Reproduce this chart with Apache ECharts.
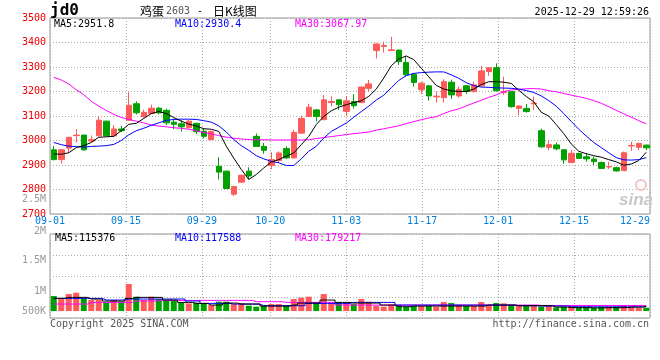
<!DOCTYPE html>
<html><head><meta charset="utf-8">
<script src="https://cdn.jsdelivr.net/npm/echarts@6/dist/echarts.min.js"></script>
<style>html,body{margin:0;padding:0;background:#fff}#c{width:660px;height:360px}</style>
</head><body><div id="c"></div><script>
const dates = ['09-01','09-02','09-03','09-04','09-05','09-08','09-09','09-10','09-11','09-12',
'09-15','09-16','09-17','09-18','09-19','09-22','09-23','09-24','09-25','09-26',
'09-29','09-30','10-09','10-10','10-13','10-14','10-15','10-16','10-17','10-20',
'10-21','10-22','10-23','10-24','10-27','10-28','10-29','10-30','10-31','11-03',
'11-04','11-05','11-06','11-07','11-10','11-11','11-12','11-13','11-14','11-17',
'11-18','11-19','11-20','11-21','11-24','11-25','11-26','11-27','11-28','12-01',
'12-02','12-03','12-04','12-05','12-08','12-09','12-10','12-11','12-12','12-15',
'12-16','12-17','12-18','12-19','12-22','12-23','12-24','12-25','12-26','12-29'];
const opens = [2962,2922,2969,3020,3022,2998,3019,3079,3019,3047,
3083,3150,3097,3110,3132,3123,3075,3068,3052,3070,
3038,3004,2895,2875,2781,2830,2875,3017,2976,2898,
2918,2967,2929,3030,3098,3125,3085,3155,3166,3119,
3159,3155,3213,3367,3384,3367,3369,3318,3270,3207,
3223,3178,3175,3238,3182,3223,3200,3223,3281,3297,
3195,3199,3131,3131,3150,3040,2972,2982,2962,2910,
2947,2934,2924,2910,2892,2889,2877,2978,2972,2981];
const closes = [2922,2962,3013,3022,2962,3003,3083,3019,3047,3040,
3144,3113,3115,3132,3113,3072,3066,3056,3079,3036,
3017,3037,2871,2804,2812,2858,2855,2976,2960,2922,
2949,2929,3033,3090,3136,3098,3166,3159,3146,3162,
3142,3218,3231,3394,3388,3370,3322,3268,3237,3234,
3182,3181,3240,3186,3209,3200,3227,3284,3297,3203,
3200,3138,3141,3118,3153,2974,2983,2966,2921,2948,
2927,2925,2914,2886,2894,2876,2950,2980,2988,2970];
const lows = [2919,2906,2949,2992,2958,2993,3017,3017,3013,3034,
3080,3106,3094,3107,3107,3063,3046,3036,3050,3027,
3008,3000,2841,2802,2773,2828,2841,2974,2946,2882,
2909,2925,2927,3028,3096,3078,3083,3139,3125,3101,
3130,3152,3200,3335,3359,3366,3308,3261,3220,3190,
3163,3155,3155,3170,3175,3190,3196,3221,3264,3200,
3186,3134,3102,3114,3125,2971,2961,2960,2905,2908,
2924,2914,2900,2884,2884,2873,2876,2958,2961,2961];
const highs = [2978,2965,3015,3047,3024,3021,3099,3081,3063,3060,
3197,3160,3126,3146,3137,3130,3089,3083,3083,3072,
3050,3040,2932,2877,2815,2860,2891,3028,2990,2952,
2956,2976,3044,3101,3150,3129,3186,3180,3169,3182,
3189,3220,3247,3396,3404,3423,3371,3345,3275,3240,
3227,3200,3250,3248,3220,3227,3240,3304,3299,3315,
3260,3200,3145,3149,3179,3048,3000,2992,2965,2962,
2950,2948,2934,2914,2913,2893,2955,2995,2991,2984];
const ma5 = [2945,2944,2950,2971,2979,2992,3013,3015,3017,3040,
3066,3070,3090,3110,3118,3110,3094,3079,3067,3059,
3048,3046,3037,2977,2928,2882,2841,2861,2888,2912,
2922,2936,2949,2983,3017,3065,3098,3121,3136,3146,
3155,3162,3180,3210,3255,3305,3333,3345,3330,3295,
3260,3225,3210,3203,3200,3200,3210,3228,3240,3240,
3238,3233,3205,3180,3158,3115,3100,3065,3028,2986,
2956,2946,2938,2932,2922,2913,2899,2904,2918,2952];
const ma10 = [2992,2983,2977,2975,2973,2976,2977,2979,2984,3000,
3023,3040,3050,3062,3072,3082,3086,3087,3087,3086,
3081,3075,3060,3035,3004,2979,2960,2938,2925,2915,
2909,2898,2898,2925,2956,2976,3010,3037,3054,3071,
3095,3118,3140,3165,3185,3215,3245,3265,3274,3277,
3279,3280,3280,3268,3254,3236,3224,3218,3217,3215,
3214,3213,3210,3204,3196,3182,3163,3140,3110,3078,
3046,3018,2992,2971,2950,2930,2921,2920,2922,2930];
const ma30 = [3258,3247,3231,3207,3187,3160,3140,3123,3107,3094,
3086,3079,3072,3063,3059,3056,3052,3050,3046,3040,
3032,3027,3020,3014,3009,3006,3004,3003,3003,3002,
3002,3002,3002,3002,3003,3008,3012,3016,3020,3024,
3028,3031,3035,3042,3048,3054,3060,3069,3077,3085,
3092,3097,3110,3121,3129,3141,3153,3164,3176,3186,
3200,3206,3209,3211,3212,3210,3203,3199,3192,3185,
3179,3172,3163,3152,3138,3123,3109,3095,3081,3068];
const volumes = [390000,312000,442000,477000,329000,286000,286000,225000,286000,243000,
702000,373000,286000,373000,312000,286000,260000,225000,199000,217000,
199000,156000,243000,243000,182000,199000,139000,113000,139000,182000,
182000,139000,312000,347000,373000,225000,442000,225000,225000,225000,
182000,312000,243000,139000,113000,173000,156000,113000,130000,130000,
139000,113000,234000,208000,156000,130000,130000,234000,156000,208000,
199000,156000,156000,156000,156000,113000,156000,95000,113000,113000,
87000,87000,87000,113000,113000,113000,156000,113000,87000,87000];
const volMa5 = [329000,329000,355000,355000,355000,312000,312000,260000,260000,260000,
329000,355000,355000,355000,355000,286000,286000,225000,225000,199000,
199000,156000,156000,208000,208000,182000,182000,182000,130000,130000,
130000,130000,156000,208000,208000,208000,286000,286000,225000,225000,
208000,208000,208000,208000,156000,156000,113000,113000,130000,130000,
130000,130000,130000,130000,130000,130000,130000,130000,156000,156000,
156000,156000,139000,139000,139000,139000,139000,104000,104000,90000,
90000,90000,82000,82000,88000,88000,88000,104000,104000,115000];
const volMa10 = [329000,329000,329000,329000,329000,329000,329000,286000,286000,286000,
312000,312000,312000,312000,312000,312000,312000,312000,260000,260000,
199000,199000,199000,199000,182000,182000,182000,182000,139000,139000,
139000,139000,139000,139000,199000,199000,199000,199000,199000,199000,
225000,225000,225000,225000,225000,225000,156000,156000,156000,156000,
156000,156000,156000,156000,156000,156000,156000,156000,156000,156000,
156000,156000,139000,139000,139000,130000,130000,130000,130000,113000,
113000,113000,110000,110000,110000,110000,110000,110000,110000,118000];
const volMa30 = [182000,182000,182000,182000,182000,225000,225000,225000,225000,225000,
225000,260000,260000,260000,277000,277000,277000,277000,277000,277000,
277000,277000,277000,277000,277000,277000,277000,243000,243000,243000,
243000,225000,225000,225000,225000,225000,225000,225000,156000,156000,
156000,156000,156000,156000,156000,156000,156000,156000,156000,156000,
156000,156000,156000,156000,156000,156000,156000,156000,156000,156000,
156000,156000,156000,156000,156000,145000,145000,145000,145000,145000,
145000,145000,145000,145000,145000,145000,145000,145000,145000,145000];
const xTickLabels = ['09-01','09-15','09-29','10-20','11-03','11-17','12-01','12-15','12-29'];
const volTickLabels = ['2M','1.5M','1M','500K'];
const strayTickLabel = '2.5M';
const maLabels = ['MA5:2951.8','MA10:2930.4','MA30:3067.97'];
const volMaLabels = ['MA5:115376','MA10:117588','MA30:179217'];

const UP = '#ff5a5a', DOWN = '#00a000';
const MONO = '"DejaVu Sans Mono", monospace';
const CJK = '"Noto Sans CJK SC", sans-serif';
const tickIdx = xTickLabels.map(d => dates.indexOf(d));
const isTick = (i) => tickIdx.indexOf(i) >= 0;
const candles = dates.map((d, i) => [opens[i], closes[i], lows[i], highs[i]]);
const volBars = volumes.map((v, i) => ({ value: v, itemStyle: { color: closes[i] >= opens[i] ? UP : DOWN } }));
const dotted = { show: true, lineStyle: { color: '#aaa', type: [1, 2], width: 1 } };

function txt(text, x, y, fill, font, align) {
  return { type: 'text', silent: true, z: 50, style: { text, x, y, fill, font, textAlign: align || 'left', align: align || 'left', textVerticalAlign: 'middle', verticalAlign: 'middle' } };
}

const chart = echarts.init(document.getElementById('c'), null, { renderer: 'canvas' });
chart.setOption({
  animation: false,
  backgroundColor: '#fff',
  grid: [
    { left: 50, top: 18, width: 600, height: 196, show: true, borderColor: '#999', borderWidth: 1 },
    { left: 50, top: 234, width: 600, height: 84, show: true, borderColor: '#999', borderWidth: 1 }
  ],
  xAxis: [
    { type: 'category', gridIndex: 0, data: dates, boundaryGap: true, position: 'bottom',
      axisLine: { show: false }, axisTick: { show: false }, axisLabel: { show: false }, splitLine: { show: false } },
    { type: 'category', gridIndex: 0, data: dates, boundaryGap: false, position: 'bottom',
      axisLine: { show: false }, axisTick: { show: false },
      axisLabel: { show: true, interval: (i) => isTick(i), color: '#0080e0', fontFamily: MONO, fontSize: 10, margin: 2, alignMaxLabel: 'right', hideOverlap: false },
      splitLine: Object.assign({ interval: (i) => isTick(i) }, dotted) },
    { type: 'category', gridIndex: 1, data: dates, boundaryGap: true, position: 'bottom',
      axisLine: { show: false }, axisTick: { show: false }, axisLabel: { show: false }, splitLine: { show: false } },
    { type: 'category', gridIndex: 1, data: dates, boundaryGap: false, position: 'bottom',
      axisLine: { show: false }, axisTick: { show: false }, axisLabel: { show: false },
      splitLine: Object.assign({ interval: (i) => isTick(i) }, dotted) }
  ],
  yAxis: [
    { type: 'value', gridIndex: 0, min: 2700, max: 3500, interval: 100, position: 'left',
      axisLine: { show: false }, axisTick: { show: false },
      axisLabel: { color: '#ee0000', fontFamily: MONO, fontSize: 10, margin: 4, padding: [0, 0, 5, 0], formatter: (v) => String(v) },
      splitLine: dotted },
    { type: 'value', gridIndex: 1, min: -180000, max: 2000000, interval: 545000, position: 'left',
      axisLine: { show: false }, axisTick: { show: false }, axisLabel: { show: false },
      splitLine: dotted }
  ],
  series: [
    { type: 'bar', name: 'vol', xAxisIndex: 2, yAxisIndex: 1, data: volBars, barWidth: 6, z: 2 },
    { type: 'line', xAxisIndex: 2, yAxisIndex: 1, data: volMa30, step: 'middle', showSymbol: false, lineStyle: { color: '#ff00ff', width: 1 }, z: 3 },
    { type: 'line', xAxisIndex: 2, yAxisIndex: 1, data: volMa10, step: 'middle', showSymbol: false, lineStyle: { color: '#0000ff', width: 1 }, z: 3 },
    { type: 'line', xAxisIndex: 2, yAxisIndex: 1, data: volMa5, step: 'middle', showSymbol: false, lineStyle: { color: '#000', width: 1 }, z: 3 },
    { type: 'candlestick', xAxisIndex: 0, yAxisIndex: 0, data: candles, barWidth: 6, z: 2,
      itemStyle: { color: UP, color0: DOWN, borderColor: UP, borderColor0: DOWN, borderWidth: 1 } },
    { type: 'line', xAxisIndex: 0, yAxisIndex: 0, data: ma30, showSymbol: false, lineStyle: { color: '#ff00ff', width: 1 }, z: 3 },
    { type: 'line', xAxisIndex: 0, yAxisIndex: 0, data: ma10, showSymbol: false, lineStyle: { color: '#0000ff', width: 1 }, z: 3 },
    { type: 'line', xAxisIndex: 0, yAxisIndex: 0, data: ma5, showSymbol: false, lineStyle: { color: '#000', width: 1 }, z: 3 }
  ],
  graphic: [
    txt('jd0', 50, 11, '#000', 'bold 16px ' + MONO),
    txt('鸡蛋', 140, 11, '#000', '12px ' + CJK),
    txt('2603', 166, 11, '#555', '10px ' + MONO),
    txt('-', 197, 11, '#000', '10px ' + MONO),
    txt('日K线图', 213, 11, '#000', '12px ' + CJK),
    txt('2025-12-29 12:59:26', 649, 12, '#000', '10px ' + MONO, 'right'),
    txt(maLabels[0], 54, 24, '#000', '10px ' + MONO),
    txt(maLabels[1], 175, 24, '#0000ff', '10px ' + MONO),
    txt(maLabels[2], 295, 24, '#ff00ff', '10px ' + MONO),
    txt(volMaLabels[0], 55, 238, '#000', '10px ' + MONO),
    txt(volMaLabels[1], 175, 238, '#0000ff', '10px ' + MONO),
    txt(volMaLabels[2], 295, 238, '#ff00ff', '10px ' + MONO),
    txt(volTickLabels[0], 46, 231, '#999', '10px ' + MONO, 'right'),
    txt(volTickLabels[1], 46, 260, '#999', '10px ' + MONO, 'right'),
    txt(volTickLabels[2], 46, 291, '#999', '10px ' + MONO, 'right'),
    txt(volTickLabels[3], 46, 311, '#999', '10px ' + MONO, 'right'),
    txt(strayTickLabel, 46, 199, '#999', '10px ' + MONO, 'right'),
    txt('Copyright 2025 SINA.COM', 50, 324, '#555', '10px ' + MONO),
    txt('http://finance.sina.com.cn', 649, 324, '#555', '10px ' + MONO, 'right'),
    txt('sina', 636, 200, '#c8c8c8', 'italic bold 17px "Liberation Sans", sans-serif', 'center'),
    { type: 'circle', silent: true, z: 1, shape: { cx: 641, cy: 185, r: 5 }, style: { fill: 'none', stroke: '#f0c4c4', lineWidth: 2 } }
  ]
});
</script></body></html>
